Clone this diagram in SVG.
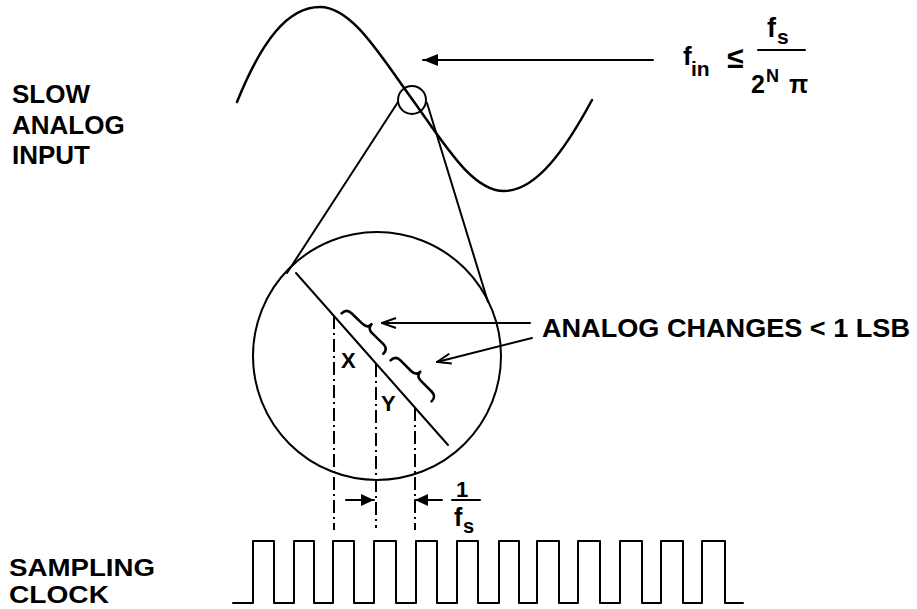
<svg xmlns="http://www.w3.org/2000/svg" width="917" height="609" viewBox="0 0 917 609">
<style>
.ln{fill:none;stroke:#000;stroke-width:2;stroke-linecap:round;stroke-linejoin:round}
.wv{fill:none;stroke:#000;stroke-width:2.5;stroke-linecap:round}
.dd{fill:none;stroke:#000;stroke-width:2;stroke-dasharray:13 4 2 4}
.br{fill:none;stroke:#000;stroke-width:2.6;stroke-linecap:round;stroke-linejoin:round}
.t{font-family:"Liberation Sans",Arial,sans-serif;font-weight:bold;fill:#000}
</style>
<defs>
<marker id="fa" viewBox="0 0 15 12" refX="15" refY="6" markerWidth="15" markerHeight="12" markerUnits="userSpaceOnUse" orient="auto">
<path d="M0,0 L15,6 L0,12 z" fill="#000"/>
</marker>
<marker id="fb" viewBox="0 0 13 12" refX="13" refY="6" markerWidth="13" markerHeight="12" markerUnits="userSpaceOnUse" orient="auto">
<path d="M0,0 L13,6 L0,12 z" fill="#000"/>
</marker>
<marker id="oa" viewBox="0 0 16 12" refX="15" refY="6" markerWidth="16" markerHeight="12" markerUnits="userSpaceOnUse" orient="auto">
<path d="M1,1 L15,6 L1,11" fill="none" stroke="#000" stroke-width="2"/>
</marker>
</defs>
<rect width="917" height="609" fill="#fff"/>

<g id="label-slow-analog-input">
<text class="t" font-size="26" x="12" y="103">SLOW</text>
<text class="t" font-size="26" x="12" y="134">ANALOG</text>
<text class="t" font-size="26" x="12" y="164">INPUT</text>
</g>

<g id="label-sampling-clock">
<text class="t" font-size="24" x="9" y="576" textLength="146" lengthAdjust="spacingAndGlyphs">SAMPLING</text>
<text class="t" font-size="24" x="9" y="603" textLength="100" lengthAdjust="spacingAndGlyphs">CLOCK</text>
</g>

<g id="sine-wave">
<path class="wv" d="M237,102 C262,40 288,7 320,7 C352,7 380,55 412,99 C445,145 472,191 504,191 C536,191 565,150 592,100"/>
</g>

<g id="sample-point">
<circle class="ln" cx="412" cy="100" r="14"/>
</g>

<g id="magnified-view">
<circle class="ln" cx="377" cy="356" r="124"/>
<line class="ln" x1="296" y1="273" x2="448" y2="445"/>
<path class="br" transform="translate(343,312) rotate(44)" d="M0,2 Q0,-5 7,-5 L22,-5 Q29,-5 29,-11 Q29,-5 36,-5 L51,-5 Q58,-5 58,2"/>
<path class="br" transform="translate(392,359) rotate(45)" d="M0,2 Q0,-5 7,-5 L22,-5 Q29,-5 29,-11 Q29,-5 36,-5 L51,-5 Q58,-5 58,2"/>
<text class="t" font-size="22" x="341" y="368">X</text>
<text class="t" font-size="22" x="381" y="411">Y</text>
</g>

<g id="formula">
<text class="t" font-size="26" x="683" y="65">f</text>
<text class="t" font-size="21" x="691" y="76">in</text>
<text class="t" font-size="30" x="727" y="68" font-weight="normal">≤</text>
<line class="ln" x1="758" y1="50" x2="805" y2="50" stroke-linecap="butt"/>
<text class="t" font-size="27" x="767" y="37">f</text>
<text class="t" font-size="21" x="777" y="44">s</text>
<text class="t" font-size="25" x="751" y="93">2</text>
<text class="t" font-size="18" x="766" y="82">N</text>
<text class="t" font-size="25" x="789" y="93" font-weight="normal">π</text>
</g>

<g id="label-lsb">
<text class="t" font-size="26.5" x="542" y="337" textLength="368" lengthAdjust="spacingAndGlyphs">ANALOG CHANGES &lt; 1 LSB</text>
</g>

<g id="period-label">
<text class="t" font-size="22" x="456" y="497">1</text>
<line class="ln" x1="452" y1="500" x2="480" y2="500" stroke-linecap="butt"/>
<text class="t" font-size="25" x="454" y="526">f</text>
<text class="t" font-size="20" x="463" y="533">s</text>
</g>

<g id="sampling-clock">
<path class="ln" stroke-linecap="butt" stroke-linejoin="miter" d="M233,603 H253 V541 H274 V603 H294 V541 H314 V603 H333 V541 H354 V603 H374 V541 H396 V603 H416 V541 H437 V603 H457 V541 H478 V603 H499 V541 H519 V603 H537 V541 H559 V603 H578 V541 H600 V603 H620 V541 H642 V603 H661 V541 H683 V603 H702 V541 H725 V603 H743"/>
</g>

<g id="connectors">
<line class="ln" x1="653" y1="60" x2="423" y2="60" marker-end="url(#fa)"/>
<line class="ln" x1="398" y1="102" x2="287" y2="273"/>
<line class="ln" x1="427" y1="103" x2="488" y2="302"/>
<line class="ln" x1="530" y1="323" x2="382" y2="323" marker-end="url(#oa)"/>
<line class="ln" x1="532" y1="338" x2="437" y2="362" marker-end="url(#oa)"/>
<line class="dd" x1="334" y1="316" x2="334" y2="530"/>
<line class="dd" x1="376" y1="364" x2="376" y2="528"/>
<line class="dd" x1="415" y1="408" x2="415" y2="530"/>
<line class="ln" x1="346" y1="500" x2="374" y2="500" marker-end="url(#fb)"/>
<line class="ln" x1="442" y1="500" x2="415" y2="500" marker-end="url(#fb)"/>
</g>
</svg>
